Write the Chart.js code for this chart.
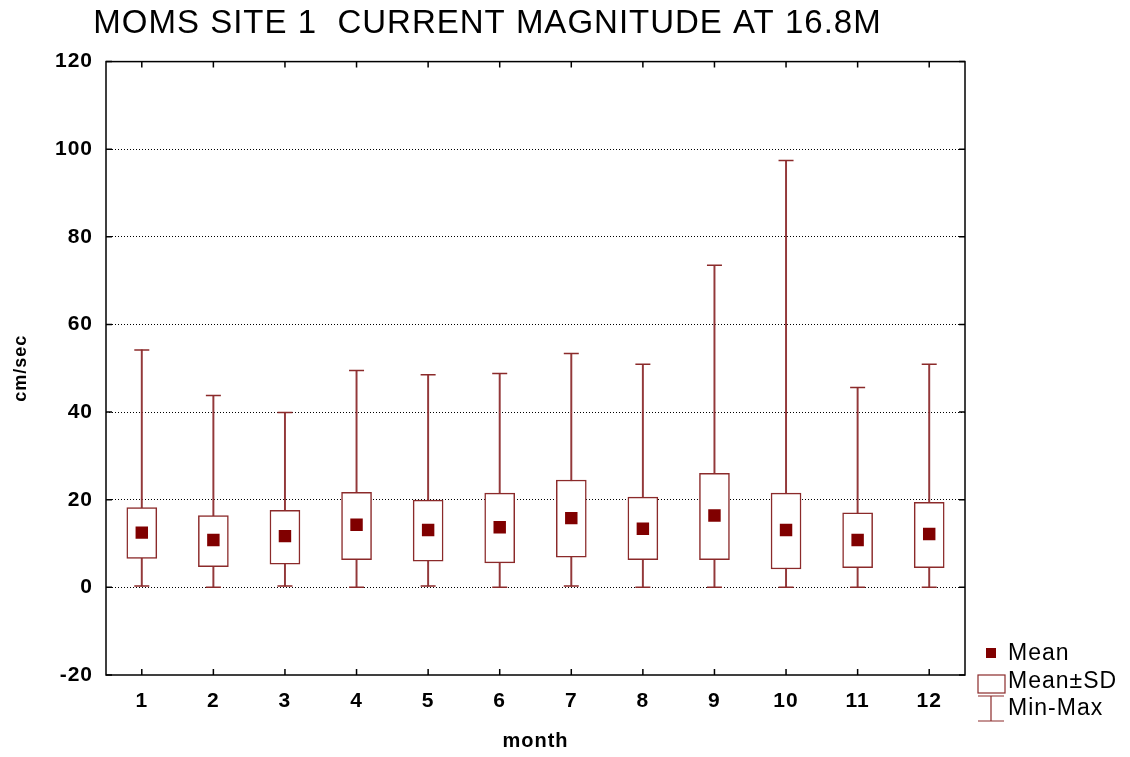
<!DOCTYPE html>
<html>
<head>
<meta charset="utf-8">
<script src="https://cdn.jsdelivr.net/npm/chart.js@4.4.0/dist/chart.umd.min.js"></script>
<style>
  html, body { margin: 0; padding: 0; background: #fff; }
</style>
</head>
<body>
<canvas id="myChart" width="1130" height="757"></canvas>
<script>
// monthly current magnitude statistics, cm/sec
var months = ['1', '2', '3', '4', '5', '6', '7', '8', '9', '10', '11', '12'];
var meanVals = [12.5, 10.8, 11.7, 14.3, 13.1, 13.7, 15.8, 13.4, 16.4, 13.1, 10.8, 12.2];
var sdLow = [6.6, 4.7, 5.3, 6.3, 6.0, 5.6, 6.9, 6.3, 6.3, 4.2, 4.5, 4.5];
var sdHigh = [18.2, 16.4, 17.6, 21.7, 19.9, 21.5, 24.5, 20.6, 26.0, 21.5, 17.0, 19.4];
var minVals = [0.3, 0.0, 0.3, 0.0, 0.3, 0.0, 0.3, 0.0, 0.0, 0.0, 0.0, 0.0];
var maxVals = [54.2, 43.8, 39.9, 49.5, 48.5, 48.8, 53.4, 50.9, 73.5, 97.4, 45.6, 50.9];
var yTicks = [-20, 0, 20, 40, 60, 80, 100, 120];

var maroon = '#8b2a2a';
var meanRed = '#800000';
var fontFam = '"Liberation Sans", Arial, sans-serif';

// frame round the plot with short inward ticks on all four sides
var framePlugin = {
    id: 'frame',
    beforeDraw: function(chart) {
        chart.ctx.letterSpacing = '1px';
    },
    afterDraw: function(chart) {
        var ctx = chart.ctx, a = chart.chartArea;
        var xs = chart.scales.x, ys = chart.scales.y;
        ctx.save();
        ctx.strokeStyle = '#000';
        ctx.lineWidth = 1.5;
        ctx.beginPath();
        for (var i = 0; i < months.length; i++) {
            var px = xs.getPixelForTick(i);
            ctx.moveTo(px, a.top); ctx.lineTo(px, a.top + 6);
            ctx.moveTo(px, a.bottom); ctx.lineTo(px, a.bottom - 6);
        }
        yTicks.forEach(function(v) {
            var py = ys.getPixelForValue(v);
            ctx.moveTo(a.left, py); ctx.lineTo(a.left + 6, py);
            ctx.moveTo(a.right, py); ctx.lineTo(a.right - 6, py);
        });
        ctx.stroke();
        ctx.strokeRect(a.left, a.top, a.right - a.left, a.bottom - a.top);

        // legend
        var lx = a.right + 26;
        ctx.letterSpacing = '1px';
        ctx.fillStyle = meanRed;
        ctx.fillRect(lx - 5, a.bottom - 27, 10, 10);
        ctx.strokeStyle = maroon;
        ctx.lineWidth = 1.2;
        ctx.fillStyle = '#fff';
        ctx.fillRect(lx - 13, a.bottom - 0, 27, 18);
        ctx.strokeRect(lx - 13, a.bottom - 0, 27, 18);
        ctx.beginPath();
        ctx.moveTo(lx - 13, a.bottom + 21); ctx.lineTo(lx + 13, a.bottom + 21);
        ctx.moveTo(lx, a.bottom + 21); ctx.lineTo(lx, a.bottom + 46);
        ctx.moveTo(lx - 13, a.bottom + 46); ctx.lineTo(lx + 13, a.bottom + 46);
        ctx.stroke();
        ctx.fillStyle = '#000';
        ctx.font = '23px ' + fontFam;
        ctx.textAlign = 'left';
        ctx.textBaseline = 'middle';
        ctx.fillText('Mean', lx + 17, a.bottom - 21);
        ctx.fillText('Mean\u00b1SD', lx + 17, a.bottom + 7);
        ctx.fillText('Min-Max', lx + 17, a.bottom + 34);
        ctx.restore();
    }
};

var ctx = document.getElementById('myChart').getContext('2d');
var myChart = new Chart(ctx, {
    type: 'bar',
    data: {
        labels: months,
        datasets: [{
            label: 'Min-Max',
            data: months.map(function(m, i) { return [minVals[i], maxVals[i]]; }),
            backgroundColor: '#93383a',
            borderWidth: 0,
            barThickness: 1.3,
            grouped: false,
            order: 4
        }, {
            label: 'Mean\u00b1SD',
            data: months.map(function(m, i) { return [sdLow[i], sdHigh[i]]; }),
            backgroundColor: '#fff',
            borderColor: maroon,
            borderWidth: 1.5,
            borderSkipped: false,
            barThickness: 30,
            grouped: false,
            order: 3
        }, {
            type: 'line',
            label: 'min cap',
            data: minVals,
            showLine: false,
            pointStyle: 'line',
            pointRadius: 7.5,
            borderColor: maroon,
            borderWidth: 1.5,
            order: 2
        }, {
            type: 'line',
            label: 'max cap',
            data: maxVals,
            showLine: false,
            pointStyle: 'line',
            pointRadius: 7.5,
            borderColor: maroon,
            borderWidth: 1.5,
            order: 2
        }, {
            type: 'line',
            label: 'Mean',
            data: meanVals,
            showLine: false,
            pointStyle: 'rect',
            pointRadius: 8.8,
            backgroundColor: meanRed,
            borderWidth: 0,
            order: 1
        }]
    },
    options: {
        responsive: false,
        animation: false,
        layout: { padding: { left: 10, right: 165, top: 0, bottom: 4 } },
        plugins: {
            legend: { display: false },
            tooltip: { enabled: false },
            title: {
                display: true,
                text: 'MOMS SITE 1  CURRENT MAGNITUDE AT 16.8M',
                color: '#000',
                font: { family: fontFam, size: 33, weight: 'normal', lineHeight: 1.2 },
                padding: { top: 4, bottom: 18 }
            }
        },
        scales: {
            x: {
                grid: { display: false, drawTicks: false },
                border: { display: false },
                ticks: {
                    color: '#000',
                    padding: 14,
                    maxRotation: 0,
                    font: { family: fontFam, size: 21, weight: 'bold' }
                },
                title: {
                    display: true,
                    text: 'month',
                    color: '#000',
                    padding: 0,
                    font: { family: fontFam, size: 20, weight: 'bold' }
                },
                afterFit: function(scale) { scale.height = 78; }
            },
            y: {
                min: -20,
                max: 120,
                afterBuildTicks: function(scale) {
                    scale.ticks = yTicks.map(function(v) { return { value: v }; });
                },
                grid: {
                    drawTicks: false,
                    lineWidth: 1,
                    color: function(c) {
                        var v = c.tick ? c.tick.value : 0;
                        return (v === -20 || v === 120) ? 'rgba(0,0,0,0)' : '#000';
                    }
                },
                border: { display: false, dash: [1, 2] },
                ticks: {
                    color: '#000',
                    padding: 13,
                    font: { family: fontFam, size: 21, weight: 'bold' }
                },
                title: {
                    display: true,
                    text: 'cm/sec',
                    color: '#000',
                    padding: 0,
                    font: { family: fontFam, size: 18, weight: 'bold' }
                },
                afterFit: function(scale) { scale.width = 96; }
            }
        }
    },
    plugins: [framePlugin]
});
</script>
</body>
</html>
